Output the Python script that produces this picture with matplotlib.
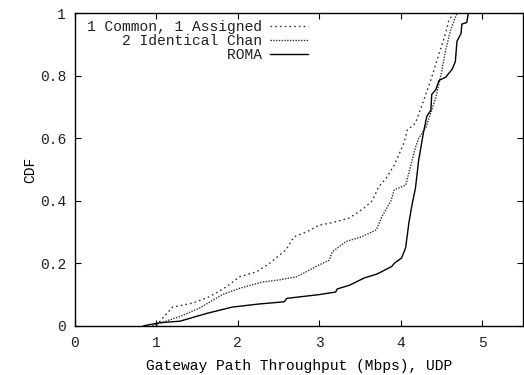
import matplotlib
matplotlib.use('Agg')
import matplotlib.pyplot as plt

# CDF curves (throughput in Mbps, cumulative fraction)
common_x = [1.0, 1.06, 1.2, 1.45, 1.65, 1.86, 2.02, 2.23, 2.39, 2.59, 2.69, 2.84, 3.0, 3.16,
            3.37, 3.55, 3.65, 3.73, 3.82, 3.92, 4.04, 4.08, 4.18, 4.28, 4.38, 4.47, 4.55,
            4.59, 4.65]
common_y = [0.0, 0.02, 0.06, 0.073, 0.093, 0.125, 0.157, 0.173, 0.2, 0.243, 0.285, 0.30, 0.322,
            0.33, 0.345, 0.377, 0.40, 0.445, 0.472, 0.514, 0.585, 0.626, 0.648, 0.72, 0.795,
            0.87, 0.935, 0.977, 1.0]

ident_x = [0.95, 1.0, 1.29, 1.53, 1.81, 2.02, 2.3, 2.51, 2.72, 2.84, 2.96, 3.12, 3.16, 3.33,
           3.52, 3.7, 3.77, 3.88, 3.92, 4.06, 4.12, 4.18, 4.22, 4.31, 4.43, 4.5, 4.55, 4.61,
           4.69]
ident_y = [0.0, 0.005, 0.03, 0.057, 0.1, 0.12, 0.14, 0.147, 0.157, 0.173, 0.19, 0.21, 0.237,
           0.27, 0.285, 0.307, 0.35, 0.40, 0.435, 0.45, 0.51, 0.57, 0.60, 0.635, 0.73, 0.81,
           0.88, 0.945, 1.0]

roma_x = [0.84, 1.04, 1.29, 1.62, 1.93, 2.26, 2.57, 2.6, 3.0, 3.12, 3.2, 3.22, 3.37, 3.55,
          3.71, 3.89, 3.92, 4.01, 4.06, 4.1, 4.14, 4.18, 4.22, 4.28, 4.32, 4.37, 4.38, 4.43,
          4.47, 4.55, 4.63, 4.67, 4.69, 4.74, 4.75, 4.81, 4.83]
roma_y = [0.0, 0.01, 0.015, 0.04, 0.06, 0.07, 0.077, 0.088, 0.1, 0.105, 0.108, 0.118, 0.13,
          0.153, 0.166, 0.19, 0.2, 0.217, 0.25, 0.33, 0.39, 0.44, 0.53, 0.62, 0.67, 0.69,
          0.74, 0.755, 0.785, 0.795, 0.82, 0.845, 0.91, 0.935, 0.965, 0.97, 1.0]

labels = ['1 Common, 1 Assigned', '2 Identical Chan', 'ROMA']
xticks = [0, 1, 2, 3, 4, 5]
yticks = [0, 0.2, 0.4, 0.6, 0.8, 1]

plt.rcParams['font.family'] = ['Liberation Mono', 'DejaVu Sans Mono']
plt.rcParams['font.size'] = 10.5
plt.rcParams['text.color'] = '#222222'
plt.rcParams['xtick.labelcolor'] = '#222222'
plt.rcParams['ytick.labelcolor'] = '#222222'

fig = plt.figure(figsize=(5.24, 3.75), dpi=100)
ax = fig.add_axes([0.143, 0.131, 0.855, 0.834])

w = max(len(s) for s in labels)
pad = [s.rjust(w) for s in labels]
ax.plot(common_x, common_y, color='#333333', lw=1.0, ls=(0, (1.2, 2.2)), label=pad[0])
ax.plot(ident_x, ident_y, color='#333333', lw=1.0, ls=(0, (1, 1)), label=pad[1])
ax.plot(roma_x, roma_y, color='black', lw=1.0, label=pad[2])

ax.set_xlim(0, 5.5)
ax.set_ylim(0, 1)
ax.set_xticks(xticks)
ax.set_xticklabels([str(t) for t in xticks])
ax.set_yticks(yticks)
ax.set_yticklabels(['0', '0.2', '0.4', '0.6', '0.8', '1'])
ax.tick_params(direction='in', top=True, right=True, length=4, width=0.8)
ax.tick_params(axis='x', pad=7.5)
ax.tick_params(axis='y', pad=6.5)
for s in ax.spines.values():
    s.set_linewidth(1.0)

ax.set_xlabel('Gateway Path Throughput (Mbps), UDP', labelpad=6)
ax.set_ylabel('CDF', labelpad=1.5)

leg = ax.legend(loc='upper left', frameon=False, markerfirst=False, handlelength=2.6,
                handletextpad=0.6, labelspacing=0.0, borderaxespad=0.2, borderpad=0.3,
                bbox_to_anchor=(0.01, 1.0))

fig.savefig('out.png', dpi=100)
